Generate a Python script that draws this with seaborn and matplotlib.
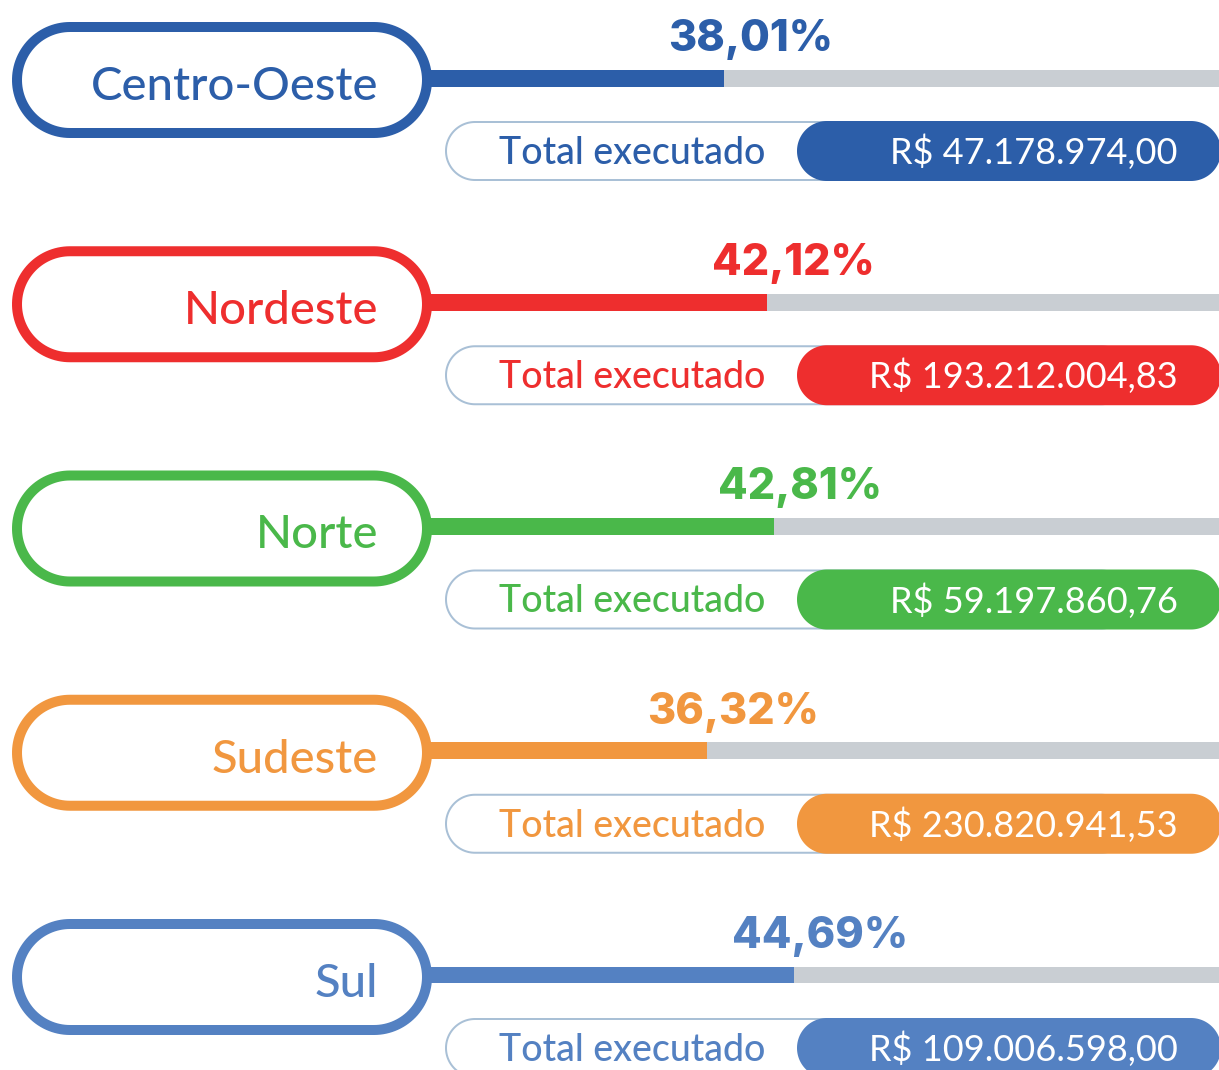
import matplotlib
matplotlib.use("Agg")
import numpy as np
import matplotlib.pyplot as plt
import seaborn as sns
import pandas as pd
from matplotlib.patches import Polygon

# ---------------- data ----------------
regions = ["Centro-Oeste", "Nordeste", "Norte", "Sudeste", "Sul"]
percent = [38.01, 42.12, 42.81, 36.32, 44.69]
pct_labels = ["38,01%", "42,12%", "42,81%", "36,32%", "44,69%"]
totals = ["R$ 47.178.974,00", "R$ 193.212.004,83", "R$ 59.197.860,76",
          "R$ 230.820.941,53", "R$ 109.006.598,00"]
total_label = "Total executado"
colors = ["#2c5ea9", "#ee2e2e", "#4ab84a", "#f1973f", "#5481c2"]
track_color = "#c9ced3"
outline_color = "#a9c0d6"

df = pd.DataFrame({"region": regions, "pct": percent, "full": [100] * len(regions)})

# ---------------- layout ----------------
sns.set_theme(style="white")
W, H = 1219, 1070
fig = plt.figure(figsize=(W / 100, H / 100), dpi=100)
fig.patch.set_facecolor("white")

px_per_pct = 10.4
x0_px = 329
row0, row_step = 78, 224.25
bar_w = 17 / row_step

ax = fig.add_axes([0, 0, 1, 1])
sns.barplot(data=df, x="full", y="region", orient="h", color=track_color,
            saturation=1, width=bar_w, linewidth=0, ax=ax)
sns.barplot(data=df, x="pct", y="region", hue="region", orient="h",
            palette=dict(zip(regions, colors)), saturation=1, width=bar_w,
            linewidth=0, legend=False, ax=ax)
ax.set_xlim(-x0_px / px_per_pct, (W - x0_px) / px_per_pct)
ax.set_ylim((H - row0) / row_step, -row0 / row_step)
ax.axis("off")

for i, (p, lab, c) in enumerate(zip(percent, pct_labels, colors)):
    ax.annotate(lab, xy=(p, i), xytext=(26 * 0.72, 27 * 0.72),
                textcoords="offset points", ha="center", va="baseline",
                color=c, fontsize=31, fontweight="heavy", family="Inter")

# decoration overlay in pixel coordinates
deco = fig.add_axes([0, 0, 1, 1])
deco.set_xlim(0, W)
deco.set_ylim(H, 0)
deco.axis("off")
deco.patch.set_alpha(0)


def stadium(x, y, w, h):
    r = h / 2.0
    t1 = np.linspace(-np.pi / 2, np.pi / 2, 60)
    right = np.column_stack([x + w - r + r * np.cos(t1), y + r + r * np.sin(t1)])
    t2 = np.linspace(np.pi / 2, 3 * np.pi / 2, 60)
    left = np.column_stack([x + r + r * np.cos(t2), y + r + r * np.sin(t2)])
    return np.vstack([right, left])


for i, (name, tot, c) in enumerate(zip(regions, totals, colors)):
    yc = row0 + i * row_step
    # region pill
    deco.add_patch(Polygon(stadium(17, yc + 2 - 53, 410, 106), closed=True,
                           fc="white", ec=c, lw=10 * 0.72, zorder=3))
    deco.text(378, yc + 22, name, ha="right", va="baseline", color=c,
              fontsize=34, family="Lato", fontweight="medium", zorder=4)
    # total pill
    deco.add_patch(Polygon(stadium(446, yc + 73 - 29, 684, 58), closed=True,
                           fc="white", ec=outline_color, lw=2 * 0.72, zorder=3))
    deco.add_patch(Polygon(stadium(797, yc + 73 - 30, 424, 60), closed=True,
                           fc=c, ec="none", zorder=4))
    deco.text(632, yc + 86, total_label, ha="center", va="baseline", color=c,
              fontsize=27, family="Lato", fontweight="medium", zorder=5)
    deco.text(1178, yc + 86, tot, ha="right", va="baseline", color="white",
              fontsize=26, fontweight="normal", family="Lato", zorder=5)

fig.savefig("out.png", dpi=100)
